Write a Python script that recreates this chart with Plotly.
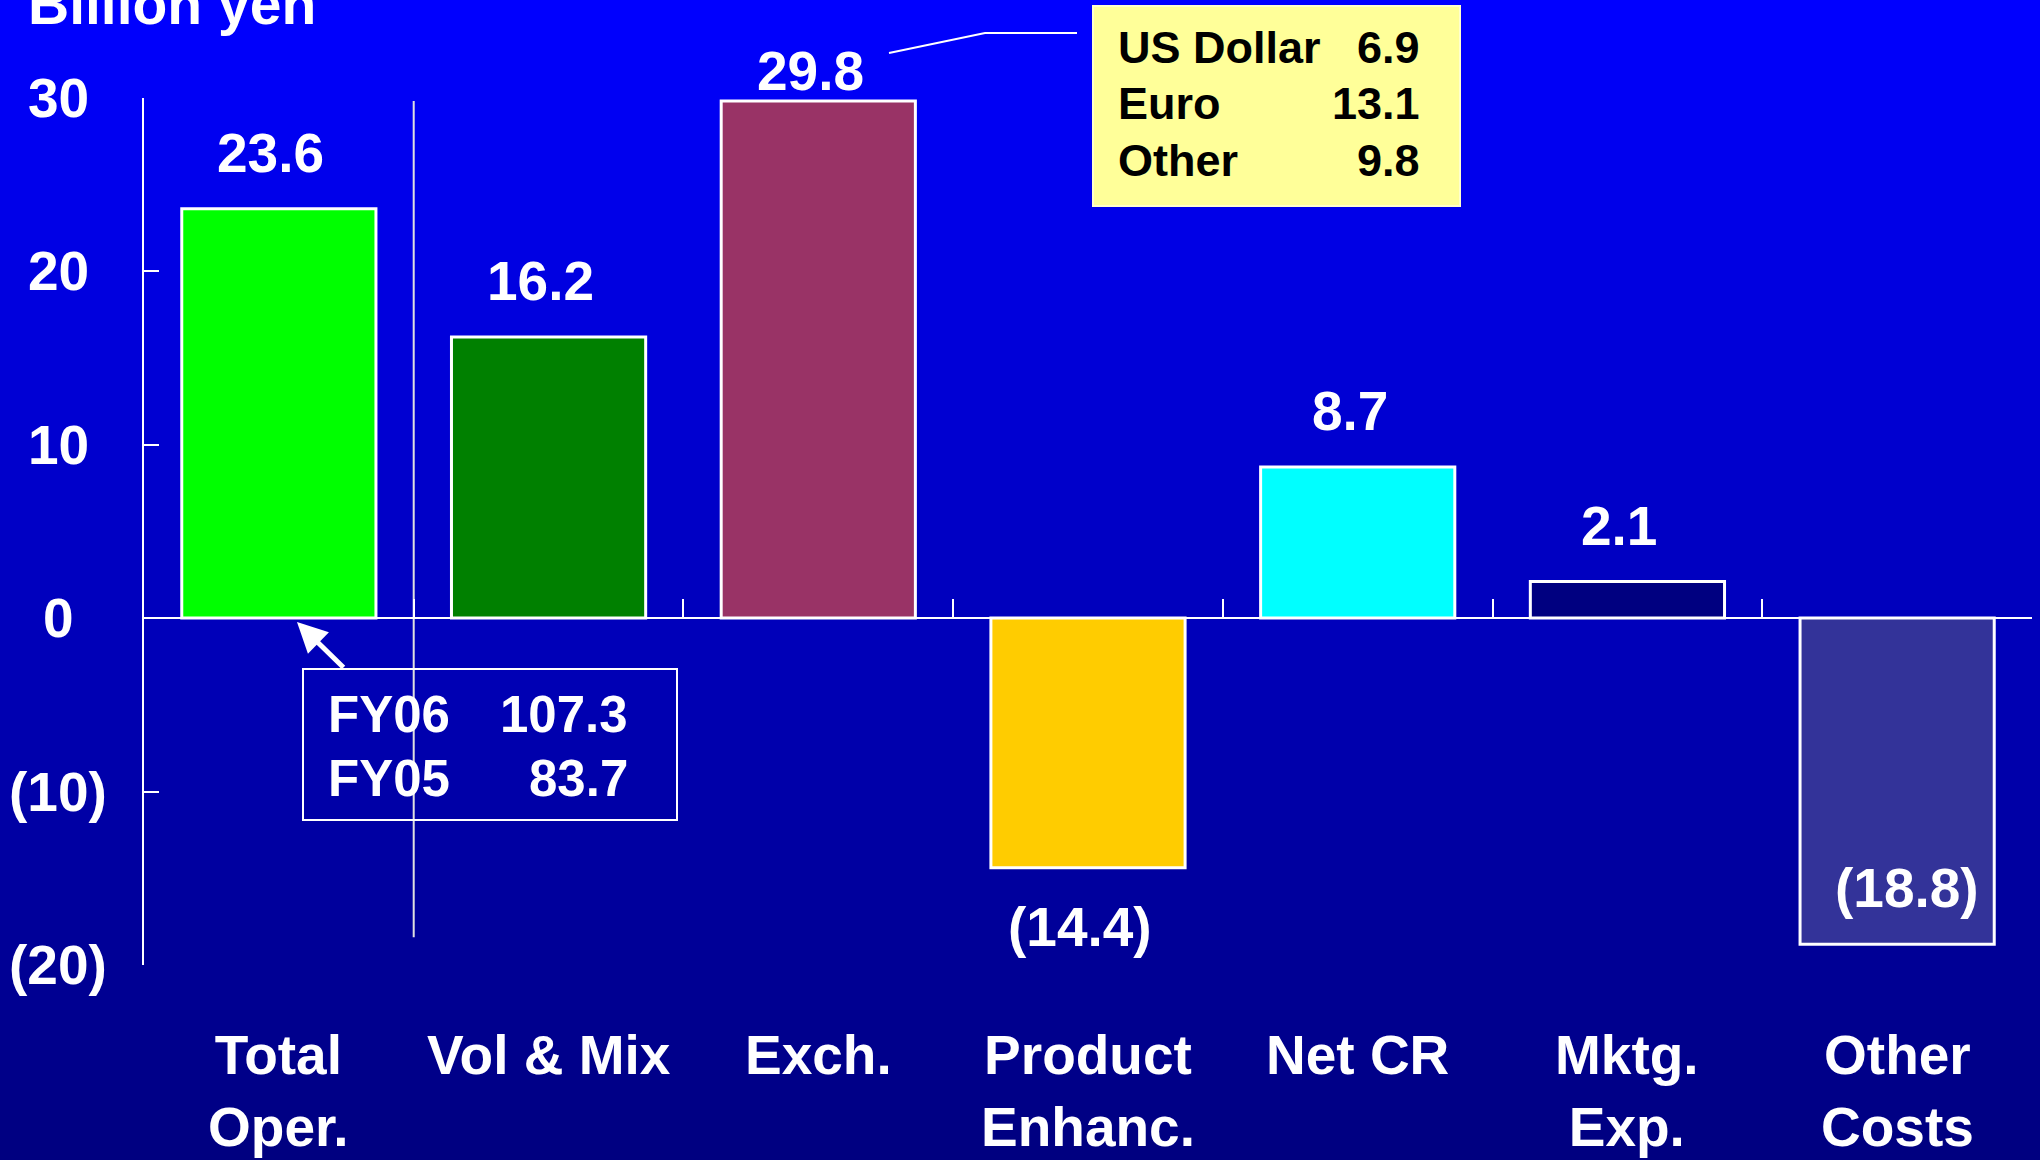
import plotly.graph_objects as go

# ---------------- data ----------------
categories = ["Total<br>Oper.", "Vol & Mix", "Exch.", "Product<br>Enhanc.",
              "Net CR", "Mktg.<br>Exp.", "Other<br>Costs"]
values = [23.6, 16.2, 29.8, -14.4, 8.7, 2.1, -18.8]
bar_colors = ["#00FF00", "#008000", "#993366", "#FFCC00", "#00FFFF", "#000080", "#333399"]
y_tickvals = [30, 20, 10, 0, -10, -20]
y_ticktext = ["30", "20", "10", "0", "(10)", "(20)"]
y_title = "Billion yen"

fx_names = ["US Dollar", "Euro", "Other"]
fx_values = [6.9, 13.1, 9.8]
fy_names = ["FY06", "FY05"]
fy_values = [107.3, 83.7]

# ---------------- layout constants ----------------
W, H = 2040, 1160
def px(x):  # pixel x -> paper
    return x / W
def py(y):  # pixel y (from top) -> paper
    return 1 - y / H

XD = [px(144), px(2032)]
YD = [py(965), py(97.6)]
YR = [-20, 30]
zero_pos = YD[0] + (0 - YR[0]) / (YR[1] - YR[0]) * (YD[1] - YD[0])

FONT = "Liberation Sans, Arial, sans-serif"
CHART_SIZE = 55

def fmt(v):
    return f"({abs(v):.1f})" if v < 0 else f"{v:.1f}"

def bf(size, color="white"):
    return dict(family=FONT, size=size, color=color, weight="bold")

fig = go.Figure()
fig.add_trace(go.Bar(
    x=categories, y=values,
    marker=dict(color=bar_colors, line=dict(color="white", width=3)),
    hoverinfo="skip", showlegend=False,
))

# ---------------- background gradient ----------------
shapes = []
N = 116
top_c = (0, 0, 255)
bot_c = (0, 0, 128)
for i in range(N):
    t = i / (N - 1)
    c = tuple(round(top_c[k] + (bot_c[k] - top_c[k]) * t) for k in range(3))
    shapes.append(dict(type="rect", xref="paper", yref="paper",
                       x0=0, x1=1, y0=1 - (i + 1) / N - 0.001, y1=1 - i / N,
                       fillcolor=f"rgb{c}", line=dict(width=0), layer="below"))

# divider line between first and second category
shapes.append(dict(type="line", xref="x", yref="y", x0=0.5, x1=0.5, y0=-18.4, y1=29.8,
                   line=dict(color="#E0E0E0", width=2), layer="below"))

# FY box
shapes.append(dict(type="rect", xref="paper", yref="paper",
                   x0=px(303), x1=px(677), y0=py(820), y1=py(669),
                   line=dict(color="white", width=2), fillcolor="rgba(0,0,0,0)"))
# FX box
shapes.append(dict(type="rect", xref="paper", yref="paper",
                   x0=px(1093), x1=px(1460), y0=py(206), y1=py(6),
                   line=dict(color="#FFFFCC", width=2), fillcolor="#FFFF99"))
# callout line to FX box
shapes.append(dict(type="path", xref="paper", yref="paper",
                   path=f"M {px(889)},{py(53)} L {px(985)},{py(33)} L {px(1077)},{py(33)}",
                   line=dict(color="white", width=2)))

annotations = []
# y tick labels centered
for v, t in zip(y_tickvals, y_ticktext):
    annotations.append(dict(x=px(58), xref="paper", y=v, yref="y", text=t,
                            showarrow=False, xanchor="center", yanchor="middle",
                            font=bf(CHART_SIZE)))
# axis title
annotations.append(dict(x=px(26), xref="paper", y=py(4), yref="paper", text=y_title,
                        showarrow=False, xanchor="left", yanchor="middle",
                        font=bf(57)))
# category labels
for c in categories:
    annotations.append(dict(x=c, xref="x", y=py(1022), yref="paper", text=c,
                            showarrow=False, xanchor="center", yanchor="top",
                            font=bf(CHART_SIZE)))
# value labels
label_shift = {2: (-8, 30), 6: (10, 56)}
for i, (c, v) in enumerate(zip(categories, values)):
    dx, dy = label_shift.get(i, (-8, 56 if v >= 0 else -59))
    annotations.append(dict(x=c, xref="x", y=v, yref="y", text=fmt(v),
                            showarrow=False, xanchor="center", yanchor="middle",
                            xshift=dx, yshift=dy, font=bf(CHART_SIZE)))
# FY box text
fy_y = [714, 778]
for n, v, yy in zip(fy_names, fy_values, fy_y):
    annotations.append(dict(x=px(326), xref="paper", y=py(yy), yref="paper", text=n,
                            showarrow=False, xanchor="left", yanchor="middle", font=bf(51)))
    annotations.append(dict(x=px(630), xref="paper", y=py(yy), yref="paper", text=f"{v:.1f}",
                            showarrow=False, xanchor="right", yanchor="middle", font=bf(51)))
# FX box text
fx_y = [48, 104, 160]
for n, v, yy in zip(fx_names, fx_values, fx_y):
    annotations.append(dict(x=px(1116), xref="paper", y=py(yy), yref="paper", text=n,
                            showarrow=False, xanchor="left", yanchor="middle",
                            font=bf(45, "black")))
    annotations.append(dict(x=px(1422), xref="paper", y=py(yy), yref="paper", text=f"{v:.1f}",
                            showarrow=False, xanchor="right", yanchor="middle",
                            font=bf(45, "black")))
# arrow from FY box to first bar
annotations.append(dict(x=px(297), xref="paper", y=py(622), yref="paper", text="",
                        showarrow=True, ax=48, ay=47, arrowhead=2, arrowsize=1.2,
                        arrowwidth=5, arrowcolor="white"))

fig.update_layout(
    width=W, height=H,
    margin=dict(l=0, r=0, t=0, b=0),
    paper_bgcolor="#0000C0", plot_bgcolor="rgba(0,0,0,0)",
    bargap=0.28,
    shapes=shapes, annotations=annotations,
    font=dict(family=FONT, color="white"),
    xaxis=dict(domain=XD, type="category", range=[-0.5, 6.5], anchor="free", position=zero_pos,
               showline=True, linecolor="white", linewidth=2,
               ticks="inside", tickson="boundaries", ticklen=18, tickcolor="white", tickwidth=2,
               showticklabels=False, showgrid=False, zeroline=False, fixedrange=True),
    yaxis=dict(domain=YD, range=YR, showline=True, linecolor="white", linewidth=2,
               ticks="inside", ticklen=15, tickcolor="white", tickwidth=2,
               tickvals=y_tickvals, showticklabels=False, showgrid=False, zeroline=False,
               fixedrange=True),
)

fig.write_html("out.html", config={"displayModeBar": False},
               post_script="document.body.style.margin='0';document.body.style.overflow='hidden';")
